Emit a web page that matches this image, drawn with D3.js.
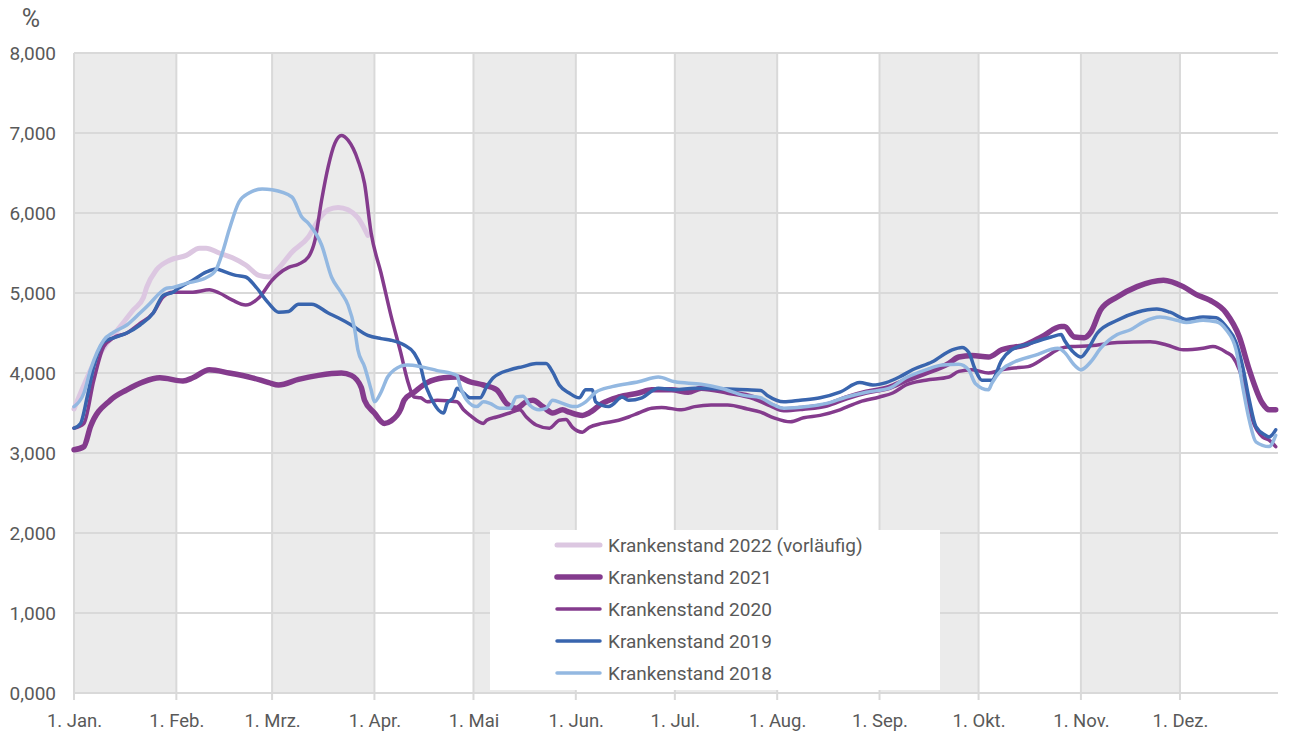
<!DOCTYPE html>
<html>
<head>
<meta charset="utf-8">
<script src="https://cdn.jsdelivr.net/npm/d3@7"></script>
<style>
  body { margin: 0; background: #fff; }
  text { font-family: Roboto, "Open Sans", sans-serif; fill: #595959; }
</style>
</head>
<body>
<script>
'use strict'

// day-of-year (leap year) where each month begins, and its label
const monthStarts = [0, 31, 60, 91, 121, 152, 182, 213, 244, 274, 305, 335]
const monthLabels = ['1. Jan.', '1. Feb.', '1. Mrz.', '1. Apr.', '1. Mai', '1. Jun.',
  '1. Jul.', '1. Aug.', '1. Sep.', '1. Okt.', '1. Nov.', '1. Dez.']
const yTicks = [0, 1, 2, 3, 4, 5, 6, 7, 8]

// [day of year, Krankenstand in %]
const ks2022 = [[0, 3.55], [2, 3.75], [6, 4.12], [10, 4.37], [14, 4.58], [18, 4.79], [21, 4.94],
  [22, 5.07], [25, 5.29], [29, 5.41], [34, 5.47], [38, 5.56], [40, 5.56], [44, 5.50], [48, 5.44],
  [52, 5.35], [56, 5.22], [59, 5.20], [62, 5.31], [66, 5.51], [71, 5.70], [74, 5.91], [77, 6.04],
  [80, 6.07], [83, 6.04], [86, 5.94], [89, 5.72]]

const ks2021 = [[0, 3.04], [3, 3.08], [5, 3.33], [11, 3.66], [16, 3.79], [21, 3.89], [26, 3.94],
  [33, 3.90], [36, 3.94], [41, 4.04], [47, 4.00], [54, 3.94], [59, 3.88], [62, 3.85], [68, 3.92],
  [74, 3.97], [81, 4.00], [84, 3.97], [87, 3.82], [88, 3.66], [91, 3.50], [94, 3.37], [96, 3.40],
  [99, 3.55], [100, 3.66], [103, 3.76], [107, 3.88], [112, 3.94], [116, 3.95], [120, 3.89],
  [124, 3.85], [128, 3.79], [131, 3.62], [134, 3.56], [137, 3.64], [139, 3.66], [142, 3.58],
  [145, 3.50], [148, 3.54], [150, 3.51], [154, 3.47], [156, 3.50], [160, 3.62], [165, 3.70],
  [171, 3.75], [175, 3.79], [181, 3.79], [186, 3.76], [190, 3.81], [198, 3.76], [206, 3.69],
  [211, 3.60], [215, 3.54], [221, 3.56], [228, 3.60], [234, 3.69], [240, 3.76], [247, 3.82],
  [252, 3.91], [258, 4.00], [265, 4.12], [268, 4.20], [272, 4.22], [277, 4.20], [281, 4.29],
  [288, 4.35], [293, 4.45], [299, 4.58], [300, 4.58], [303, 4.45], [306, 4.44], [308, 4.51],
  [311, 4.79], [316, 4.95], [322, 5.08], [330, 5.16], [336, 5.08], [340, 4.98], [344, 4.91],
  [349, 4.75], [353, 4.45], [356, 4.04], [360, 3.62], [362, 3.54], [364, 3.54]]

const ks2020 = [[0, 3.31], [3, 3.37], [6, 3.91], [9, 4.33], [12, 4.44], [16, 4.50], [20, 4.62],
  [24, 4.75], [27, 4.95], [30, 5.01], [36, 5.01], [41, 5.04], [44, 5.00], [48, 4.91], [52, 4.85],
  [56, 4.94], [60, 5.16], [62, 5.24], [65, 5.32], [68, 5.36], [71, 5.45], [73, 5.66], [75, 6.16],
  [77, 6.58], [79, 6.87], [81, 6.97], [83, 6.91], [86, 6.66], [88, 6.37], [90, 5.75], [93, 5.25],
  [96, 4.72], [99, 4.25], [101, 3.91], [103, 3.70], [105, 3.69], [107, 3.64], [110, 3.66],
  [116, 3.64], [118, 3.54], [120, 3.47], [124, 3.37], [125, 3.41], [128, 3.45], [132, 3.50],
  [135, 3.54], [137, 3.45], [140, 3.35], [144, 3.31], [147, 3.41], [149, 3.42], [151, 3.32],
  [154, 3.26], [156, 3.32], [160, 3.37], [165, 3.41], [168, 3.45], [171, 3.50], [175, 3.56],
  [178, 3.57], [184, 3.54], [188, 3.58], [193, 3.60], [198, 3.60], [204, 3.55], [208, 3.51],
  [212, 3.44], [217, 3.39], [221, 3.44], [226, 3.47], [232, 3.54], [238, 3.64], [244, 3.70],
  [248, 3.75], [252, 3.85], [258, 3.91], [265, 3.95], [268, 4.02], [272, 4.04], [277, 4.00],
  [281, 4.04], [284, 4.06], [289, 4.08], [294, 4.19], [299, 4.31], [302, 4.33], [308, 4.34],
  [316, 4.38], [326, 4.39], [331, 4.35], [336, 4.29], [342, 4.31], [345, 4.33], [349, 4.26],
  [351, 4.20], [353, 4.04], [355, 3.75], [357, 3.41], [360, 3.20], [362, 3.16], [364, 3.08]]

const ks2019 = [[0, 3.31], [2, 3.37], [4, 3.70], [6, 4.08], [9, 4.39], [12, 4.44], [16, 4.50],
  [20, 4.60], [24, 4.75], [27, 4.97], [30, 5.01], [31, 5.04], [36, 5.16], [40, 5.26], [43, 5.30],
  [46, 5.26], [49, 5.22], [52, 5.20], [55, 5.08], [59, 4.87], [62, 4.76], [65, 4.77], [68, 4.86],
  [72, 4.86], [77, 4.75], [80, 4.69], [84, 4.60], [89, 4.47], [93, 4.43], [96, 4.41], [100, 4.35],
  [103, 4.25], [105, 4.08], [106, 3.91], [108, 3.70], [112, 3.50], [113, 3.62], [115, 3.70],
  [116, 3.81], [118, 3.75], [120, 3.69], [123, 3.69], [125, 3.83], [127, 3.94], [132, 4.04],
  [136, 4.08], [140, 4.12], [143, 4.12], [145, 4.01], [147, 3.85], [150, 3.75], [153, 3.69],
  [155, 3.79], [157, 3.79], [158, 3.64], [162, 3.58], [163, 3.60], [166, 3.70], [168, 3.66],
  [172, 3.69], [177, 3.81], [182, 3.79], [188, 3.81], [198, 3.80], [204, 3.79], [208, 3.78],
  [210, 3.72], [215, 3.64], [220, 3.66], [226, 3.69], [232, 3.76], [238, 3.88], [242, 3.85],
  [246, 3.88], [250, 3.95], [254, 4.04], [260, 4.14], [266, 4.29], [269, 4.32], [271, 4.26],
  [273, 4.04], [275, 3.91], [278, 3.91], [281, 4.16], [284, 4.29], [289, 4.36], [296, 4.45],
  [299, 4.48], [300, 4.41], [303, 4.25], [305, 4.20], [307, 4.29], [310, 4.50], [316, 4.66],
  [322, 4.76], [328, 4.80], [332, 4.76], [337, 4.67], [342, 4.70], [346, 4.69], [349, 4.58],
  [352, 4.38], [354, 4.08], [356, 3.66], [358, 3.33], [361, 3.22], [362, 3.20], [364, 3.29]]

const ks2018 = [[0, 3.58], [3, 3.75], [5, 4.04], [7, 4.26], [9, 4.41], [12, 4.51], [16, 4.60],
  [20, 4.75], [23, 4.87], [26, 5.00], [28, 5.06], [30, 5.07], [34, 5.12], [40, 5.19], [43, 5.29],
  [45, 5.51], [47, 5.79], [50, 6.14], [53, 6.25], [57, 6.30], [60, 6.29], [66, 6.20], [69, 5.95],
  [71, 5.87], [75, 5.60], [78, 5.20], [81, 5.00], [83, 4.85], [85, 4.55], [86, 4.29], [88, 4.08],
  [90, 3.79], [91, 3.64], [93, 3.76], [95, 3.95], [97, 4.04], [101, 4.10], [105, 4.08],
  [110, 4.03], [116, 3.97], [117, 3.83], [119, 3.66], [122, 3.58], [124, 3.64], [126, 3.62],
  [129, 3.56], [132, 3.56], [134, 3.70], [136, 3.71], [138, 3.60], [141, 3.54], [143, 3.56],
  [145, 3.66], [148, 3.62], [151, 3.58], [152, 3.58], [155, 3.64], [158, 3.76], [163, 3.83],
  [171, 3.89], [177, 3.95], [182, 3.89], [190, 3.86], [196, 3.81], [203, 3.72], [208, 3.69],
  [212, 3.60], [215, 3.56], [222, 3.58], [228, 3.62], [234, 3.70], [240, 3.76], [247, 3.81],
  [252, 3.94], [258, 4.04], [263, 4.10], [268, 4.11], [271, 4.04], [273, 3.87], [277, 3.79],
  [278, 3.87], [281, 4.04], [285, 4.14], [291, 4.22], [298, 4.31], [300, 4.26], [303, 4.10],
  [305, 4.04], [308, 4.14], [311, 4.31], [316, 4.48], [320, 4.54], [324, 4.64], [329, 4.70],
  [334, 4.66], [337, 4.63], [342, 4.66], [346, 4.64], [349, 4.54], [352, 4.29], [354, 3.83],
  [356, 3.41], [358, 3.14], [362, 3.08], [364, 3.22]]

const seriesNames = ['Krankenstand 2022 (vorläufig)', 'Krankenstand 2021', 'Krankenstand 2020',
  'Krankenstand 2019', 'Krankenstand 2018']
const seriesData = [ks2022, ks2021, ks2020, ks2019, ks2018]
const seriesColors = ['#dcc7e1', '#843b8d', '#843b8d', '#3965ae', '#93b8e1']
const seriesWidths = [5, 5.5, 3.5, 3.5, 3.5]

const width = 1293
const height = 733
const plotLeft = 74
const plotRight = 1279
const plotTop = 53
const plotBottom = 693
const gridRight = 1278

const svg = d3.select('body').append('svg')
  .attr('width', width)
  .attr('height', height)

const x = d3.scaleLinear().domain([0, 365]).range([plotLeft, plotRight])
const y = d3.scaleLinear().domain([0, 8]).range([plotBottom, plotTop])

// shaded bands for every other month
const bandMonths = monthStarts.map(function (d, i) {
  return { start: d, end: i < 11 ? monthStarts[i + 1] : 366 }
}).filter(function (d, i) { return i % 2 === 0 })

svg.append('g').selectAll('rect')
  .data(bandMonths)
  .enter().append('rect')
  .attr('x', function (d) { return x(d.start) })
  .attr('y', plotTop)
  .attr('width', function (d) { return Math.min(x(d.end), gridRight) - x(d.start) })
  .attr('height', plotBottom - plotTop)
  .attr('fill', '#ebebeb')

// horizontal grid
svg.append('g').selectAll('line')
  .data(yTicks)
  .enter().append('line')
  .attr('x1', plotLeft)
  .attr('x2', gridRight)
  .attr('y1', function (d) { return y(d) })
  .attr('y2', function (d) { return y(d) })
  .attr('stroke', '#d9d9d9')
  .attr('stroke-width', 2)

// vertical grid, running down into the tick marks
svg.append('g').selectAll('line')
  .data(monthStarts)
  .enter().append('line')
  .attr('x1', function (d) { return x(d) })
  .attr('x2', function (d) { return x(d) })
  .attr('y1', plotTop)
  .attr('y2', plotBottom + 7)
  .attr('stroke', '#d9d9d9')
  .attr('stroke-width', 2)

const deLocale = d3.formatLocale({ decimal: ',', thousands: '.', grouping: [3], currency: ['', ' €'] })
const fmt = deLocale.format('.3f')

const yAxis = svg.append('g')
  .attr('transform', 'translate(' + (plotLeft - 18) + ',0)')
  .call(d3.axisLeft(y).tickValues(yTicks).tickFormat(fmt).tickSize(0))
yAxis.select('.domain').remove()
yAxis.selectAll('text')
  .attr('x', 0)
  .attr('dy', '0.35em')
  .style('font-size', '19px')

const xAxis = svg.append('g')
  .attr('transform', 'translate(0,' + plotBottom + ')')
  .call(d3.axisBottom(x).tickValues(monthStarts)
    .tickFormat(function (d, i) { return monthLabels[i] }).tickSize(0))
xAxis.select('.domain').remove()
xAxis.selectAll('text')
  .attr('y', 34)
  .attr('dy', 0)
  .style('font-size', '18.5px')

svg.append('text')
  .attr('x', 31)
  .attr('y', 27)
  .attr('text-anchor', 'middle')
  .style('font-size', '25px')
  .text('%')

const line = d3.line()
  .x(function (d) { return x(d[0]) })
  .y(function (d) { return y(d[1]) })
  .curve(d3.curveMonotoneX)

svg.append('g').selectAll('path')
  .data(seriesData)
  .enter().append('path')
  .attr('d', line)
  .attr('fill', 'none')
  .attr('stroke', function (d, i) { return seriesColors[i] })
  .attr('stroke-width', function (d, i) { return seriesWidths[i] })
  .attr('stroke-linejoin', 'round')
  .attr('stroke-linecap', 'round')

// legend
const legend = svg.append('g')
legend.append('rect')
  .attr('x', 490)
  .attr('y', 530)
  .attr('width', 450)
  .attr('height', 160)
  .attr('fill', '#fff')

const rows = legend.selectAll('g.row')
  .data(seriesNames)
  .enter().append('g')
  .attr('class', 'row')
  .attr('transform', function (d, i) { return 'translate(0,' + (545 + i * 32) + ')' })

rows.append('line')
  .attr('x1', 557)
  .attr('x2', 600)
  .attr('stroke', function (d, i) { return seriesColors[i] })
  .attr('stroke-width', function (d, i) { return seriesWidths[i] })
  .attr('stroke-linecap', 'round')

rows.append('text')
  .attr('x', 608)
  .attr('dy', '0.35em')
  .style('font-size', '19px')
  .text(function (d) { return d })
</script>
</body>
</html>
